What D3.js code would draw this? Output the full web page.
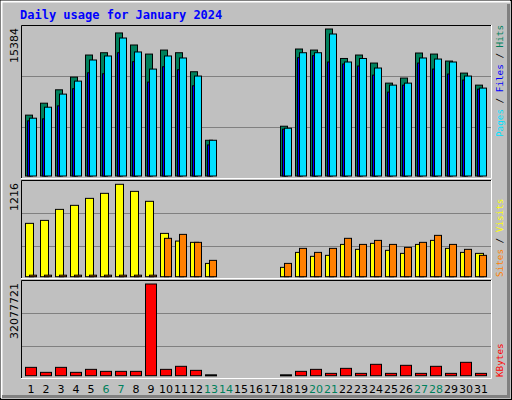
<!DOCTYPE html><html><head><meta charset="utf-8">
<script src="https://cdn.jsdelivr.net/npm/d3@7"></script>
<style>body{margin:0;background:#fff}</style></head><body><svg id="c" width="512" height="400"></svg>
<script>
const days = d3.range(1,32);
const weekend = [6,7,13,14,20,21,27,28];
const hits  = [6370,7620,9020,10350,12660,12900,14970,13710,12760,13180,12900,10910,3740,0,0,0,0,5210,13290,13180,15384,12300,12660,11820,9720,10250,12870,12760,12030,10770,9510];
const files = [6050,7200,8570,9930,12140,12560,14440,12980,11190,12560,12350,10460,3740,0,0,0,0,5000,12900,12900,14860,11930,12300,11300,9510,9720,12350,12240,11930,10460,9200];
const pages = [5770,5980,7340,9130,10800,10700,12900,11960,9830,11430,11120,9440,3250,0,0,0,0,4900,12380,12590,11930,11720,11510,10560,8780,9510,11820,11190,10670,10040,9090];
const visits= [702,741,886,939,1031,1097,1216,1123,992,570,469,452,175,0,0,0,0,123,320,268,281,425,360,439,347,307,425,478,373,320,307];
const sites = [20,20,20,20,20,20,20,20,20,505,557,452,215,0,0,0,0,175,373,320,373,505,425,478,425,386,452,544,425,360,281];
const kbytes= [2920000,1170000,2920000,1170000,2220000,1520000,1520000,1520000,32077721,2220000,3280000,1870000,300000,0,0,0,0,300000,1520000,2220000,820000,2570000,820000,3980000,820000,3630000,820000,3280000,820000,4680000,820000];
const maxLabels = ["15384","1216","32077721"];

const svg = d3.select("#c");
const F = "'DejaVu Sans Mono', monospace";
svg.append("rect").attr("x",0).attr("y",0).attr("width",512).attr("height",400).attr("fill","#c0c0c0");
svg.append("rect").attr("x",0.5).attr("y",0.5).attr("width",511).attr("height",399).attr("fill","none").attr("stroke","#000");
svg.append("path").attr("d","M1.5,398V1.5H510").attr("stroke","#fff").attr("fill","none").attr("stroke-width",2);
svg.append("path").attr("d","M2,396.5H508.5V4").attr("stroke","#808080").attr("fill","none").attr("stroke-width",3);
svg.append("text").attr("x",20).attr("y",19).attr("font-family",F).attr("font-weight","bold").attr("font-size",12).attr("fill","#0000ff").text("Daily usage for January 2024");

const x = d3.scaleLinear().domain([1,32]).range([25,490]);
const panels = [
 {top:25,bot:179,base:176,peak:29,max:15384,grid:[76,127]},
 {top:180,bot:279,base:276.7,peak:184.3,max:1216,grid:[213,246]},
 {top:280,bot:379,base:375.7,peak:284,max:32077721,grid:[313,346]}
];
panels.forEach((p,i)=>{
  svg.append("rect").attr("x",21).attr("y",p.top).attr("width",470).attr("height",p.bot-p.top).attr("fill","#c0c0c0");
  p.grid.forEach(g=>svg.append("line").attr("x1",21).attr("x2",491).attr("y1",g+0.5).attr("y2",g+0.5).attr("stroke","#808080"));
  svg.append("path").attr("d",`M21.5,${p.bot}V${p.top+0.5}H491`).attr("stroke","#000").attr("fill","none");
  svg.append("path").attr("d",`M21,${p.bot-0.5}H491.5V${p.top}`).attr("stroke","#fff").attr("fill","none");
  svg.append("text").attr("transform",`translate(18,${p.top+3}) rotate(-90)`).attr("text-anchor","end")
    .attr("font-family","'DejaVu Sans', sans-serif").attr("font-size",11).attr("fill","#000").text(maxLabels[i]);
  p.y=d3.scaleLinear().domain([0,p.max]).range([p.base,p.peak]);
});
function bars(data,p,dx,w,fillFn){
  const rows=data.map((v,i)=>({v,day:i+1})).filter(d=>d.v>0);
  svg.append("g").selectAll("rect").data(rows).join("rect")
   .attr("x",d=>x(d.day)+dx+0.5).attr("width",w)
   .attr("y",d=>p.y(d.v)).attr("height",d=>Math.max(1,p.base-p.y(d.v)))
   .attr("fill",fillFn).attr("stroke","#000").attr("stroke-width",1);
}
bars(hits,panels[0],0,7,"#00805c");
bars(pages,panels[0],2,3,"#0000ff");
bars(files,panels[0],4,7,"#00e0ff");
bars(visits,panels[1],0,8,"#ffff00");
bars(sites,panels[1],4,7,"#ff8000");
bars(kbytes,panels[2],0,11,d=>d.v<500000?"#000":"#ff0000");

svg.append("g").selectAll("text").data(days).join("text")
 .attr("x",d=>x(d)+6).attr("y",393).attr("text-anchor","middle")
 .attr("font-family","'DejaVu Sans', sans-serif").attr("font-size",11)
 .attr("fill",d=>weekend.includes(d)?"#00805c":"#000").text(d=>d);

function legend(y,parts){
  const t=svg.append("text").attr("transform",`translate(503,${y}) rotate(-90)`).attr("font-family",F).attr("font-size",9.3);
  parts.forEach(([s,c])=>t.append("tspan").attr("fill",c).text(s));
}
legend(137,[["Pages","#00e0ff"],[" / ","#000"],["Files","#0000ff"],[" / ","#000"],["Hits","#00805c"]]);
legend(277,[["Sites","#ff8000"],[" / ","#000"],["Visits","#ffff00"]]);
legend(377,[["KBytes","#ff0000"]]);
</script></body></html>
